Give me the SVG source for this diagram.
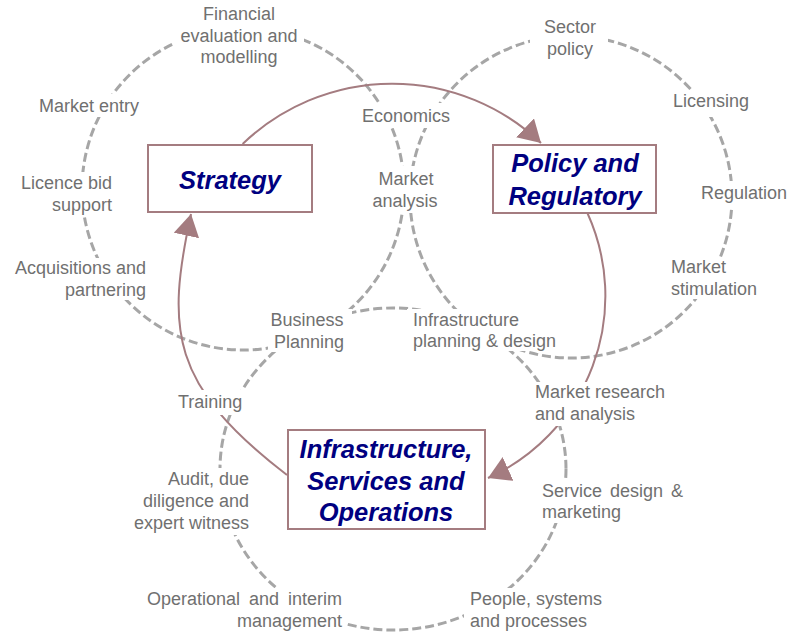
<svg xmlns="http://www.w3.org/2000/svg" width="789" height="632" viewBox="0 0 789 632">
<style>
.ring{fill:none;stroke:#a6a6a6;stroke-width:3;stroke-dasharray:9 4}
.arc{fill:none;stroke:#a47c80;stroke-width:2}
.mask{fill:#fff;stroke:none}
.lbl{font-family:"Liberation Sans",Arial,sans-serif;font-size:18px;fill:#707070}
.box{fill:#fff;stroke:#a47c80;stroke-width:2}
.ttl{font-family:"Liberation Sans",Arial,sans-serif;font-size:25.5px;font-weight:bold;font-style:italic;fill:#000080;text-anchor:middle}
.e{text-anchor:end}
.m{text-anchor:middle}
</style>
<defs>
<marker id="ah" markerUnits="userSpaceOnUse" markerWidth="24" markerHeight="26" refX="22" refY="13" orient="auto">
<path d="M0,0 L22,13 L0,26 z" fill="#a47c80"/>
</marker>
</defs>
<g id="rings">
<circle class="ring" cx="243" cy="189" r="161"/>
<circle class="ring" cx="571" cy="197" r="161"/>
<ellipse class="ring" cx="393" cy="469" rx="173" ry="161"/>
</g>
<g id="connectors">
<path class="arc" d="M242.6,144 A216,216 0 0 1 541,143" marker-end="url(#ah)"/>
<path class="arc" d="M287,475 C170,385 166,330 191,214" marker-end="url(#ah)"/>
<path class="arc" d="M587.4,213 A200,200 0 0 1 488,478" marker-end="url(#ah)"/>
</g>
<g id="label-financial"><rect class="mask" x="174" y="2" width="130" height="66"/><text class="lbl m" x="239" y="20">Financial</text><text class="lbl m" x="239" y="42">evaluation and</text><text class="lbl m" x="239" y="63">modelling</text></g>
<g id="label-market-entry"><rect class="mask" x="30" y="94" width="115" height="23"/><text class="lbl e" x="139" y="112">Market entry</text></g>
<g id="label-licence"><rect class="mask" x="16" y="172" width="102" height="43"/><text class="lbl e" x="112" y="189">Licence bid</text><text class="lbl e" x="112" y="211">support</text></g>
<g id="label-acquisitions"><rect class="mask" x="8" y="258" width="144" height="42"/><text class="lbl e" x="146" y="274">Acquisitions and</text><text class="lbl e" x="146" y="296">partnering</text></g>
<g id="label-business"><rect class="mask" x="268" y="309" width="84" height="43"/><text class="lbl m" x="307" y="326">Business</text><text class="lbl m" x="309" y="348">Planning</text></g>
<g id="label-economics"><rect class="mask" x="355" y="103" width="103" height="25"/><text class="lbl m" x="406" y="122">Economics</text></g>
<g id="label-market-analysis"><rect class="mask" x="366" y="166" width="78" height="47"/><text class="lbl m" x="406" y="185">Market</text><text class="lbl m" x="405" y="207">analysis</text></g>
<g id="label-sector"><rect class="mask" x="530" y="15" width="78" height="45"/><text class="lbl m" x="570" y="33">Sector</text><text class="lbl m" x="570" y="55">policy</text></g>
<g id="label-licensing"><rect class="mask" x="667" y="91" width="89" height="26"/><text class="lbl m" x="711" y="107">Licensing</text></g>
<g id="label-regulation"><rect class="mask" x="697" y="181" width="92" height="26"/><text class="lbl m" x="744" y="199">Regulation</text></g>
<g id="label-stimulation"><rect class="mask" x="665" y="257" width="100" height="42"/><text class="lbl" x="671" y="273">Market</text><text class="lbl" x="671" y="295">stimulation</text></g>
<g id="label-infra-planning"><rect class="mask" x="407" y="309" width="155" height="42"/><text class="lbl" x="413" y="326">Infrastructure</text><text class="lbl" x="413" y="347">planning &amp; design</text></g>
<g id="label-market-research"><rect class="mask" x="528" y="382" width="147" height="44"/><text class="lbl" x="535" y="398">Market research</text><text class="lbl" x="535" y="420">and analysis</text></g>
<g id="label-training"><rect class="mask" x="172" y="390" width="74" height="25"/><text class="lbl" x="178" y="408">Training</text></g>
<g id="label-audit"><rect class="mask" x="124" y="468" width="131" height="67"/><text class="lbl e" x="249" y="485">Audit, due</text><text class="lbl e" x="249" y="507">diligence and</text><text class="lbl e" x="249" y="529">expert witness</text></g>
<g id="label-operational"><rect class="mask" x="140" y="588" width="206" height="44"/><text class="lbl e" x="342" y="605" word-spacing="4">Operational and interim</text><text class="lbl e" x="342" y="627">management</text></g>
<g id="label-people"><rect class="mask" x="464" y="588" width="148" height="44"/><text class="lbl" x="470" y="605">People, systems</text><text class="lbl" x="470" y="627">and processes</text></g>
<g id="label-service"><rect class="mask" x="536" y="481" width="152" height="42"/><text class="lbl" x="542" y="497" word-spacing="3">Service design &amp;</text><text class="lbl" x="542" y="518">marketing</text></g>
<g id="node-strategy"><rect class="box" x="148" y="145" width="164" height="67"/><text class="ttl" x="230" y="189">Strategy</text></g>
<g id="node-policy"><rect class="box" x="493" y="145" width="163" height="68"/><text class="ttl" x="575" y="172">Policy and</text><text class="ttl" x="575" y="205">Regulatory</text></g>
<g id="node-infrastructure"><rect class="box" x="288" y="430" width="197" height="99"/><text class="ttl" x="386" y="458">Infrastructure,</text><text class="ttl" x="386" y="490">Services and</text><text class="ttl" x="386" y="521">Operations</text></g>
</svg>
